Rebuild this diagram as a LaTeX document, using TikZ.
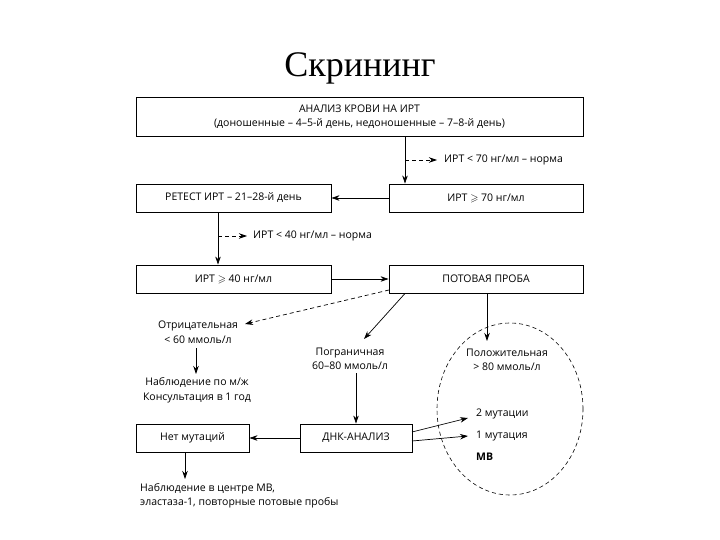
\documentclass[tikz,border=0pt]{standalone}
\usepackage{amssymb}
\usepackage{fontspec}
\setmainfont{Open Sans}
\newfontfamily\titlefont{Liberation Serif}
\usetikzlibrary{arrows.meta,shapes.geometric}
\begin{document}
\begin{tikzpicture}[x=1pt,y=-1pt,
  every node/.style={font=\fontsize{10.5}{14.5}\selectfont, inner sep=0pt},
  box/.style={draw, line width=0.9pt, minimum height=28pt, align=center},
  lbl/.style={align=center},
  arr/.style={-{Stealth[length=8pt,width=5.5pt]}, line width=0.7pt},
  darr/.style={arr, dashed, dash pattern=on 4pt off 3pt}]
\useasboundingbox (0,0) rectangle (720,540);
\node[font=\titlefont\fontsize{36}{40}\selectfont] (title) at (360,68) {Скрининг};
\node[box, minimum width=447pt, minimum height=39pt] (b1) at (359.5,116.5)
  {АНАЛИЗ КРОВИ НА ИРТ\\(доношенные – 4–5-й день, недоношенные – 7–8-й день)};
\node[box, minimum width=194pt] (r70) at (486,198) {ИРТ $\geqslant$ 70 нг/мл};
\node[box, minimum width=195pt] (ret) at (233.5,198) {РЕТЕСТ ИРТ – 21–28-й день};
\node[box, minimum width=195pt] (i40) at (233.5,279) {ИРТ $\geqslant$ 40 нг/мл};
\node[box, minimum width=194pt] (pot) at (486,279) {ПОТОВАЯ ПРОБА};
\node[box, minimum width=112pt] (dna) at (356,438) {ДНК-АНАЛИЗ};
\node[box, minimum width=113pt] (net) at (192.5,438) {Нет мутаций};
\node[anchor=west] (n70) at (444,160) {ИРТ < 70 нг/мл – норма};
\node[anchor=west] (n40) at (253,236) {ИРТ < 40 нг/мл – норма};
\node[lbl] (neg) at (198,332) {Отрицательная\\< 60 ммоль/л};
\node[lbl] (brd) at (350,359) {Пограничная\\60–80 ммоль/л};
\node[lbl] (pos) at (507,360) {Положительная\\> 80 ммоль/л};
\node[lbl] (obs) at (197,390) {Наблюдение по м/ж\\Консультация в 1 год};
\node[anchor=west] (m2) at (476,414) {2 мутации};
\node[anchor=west] (m1) at (476,436) {1 мутация};
\node[anchor=west, font=\fontsize{10.5}{14.5}\selectfont\bfseries] (mv) at (476,457) {МВ};
\node[align=left, anchor=north west] (fin) at (140,483) {Наблюдение в центре МВ,\\эластаза-1, повторные потовые пробы};
\node[ellipse, draw, dashed, dash pattern=on 4pt off 3pt, line width=0.6pt,
  minimum width=146pt, minimum height=172pt] (ell) at (510,409) {};
\coordinate (x405) at (405,0);
\coordinate (x218) at (218,0);
\coordinate (x487) at (487,0);
\coordinate (x356) at (356,0);
\coordinate (d70s) at (405,160);
\coordinate (d70e) at (437,160);
\coordinate (d40s) at (218,236);
\coordinate (d40e) at (247,236);
\coordinate (negs) at (389,290);
\coordinate (nege) at (245,324);
\coordinate (brde) at (364,339);
\coordinate (pose) at (487,341);
\coordinate (negb) at (196,348);
\coordinate (obst) at (196,374);
\coordinate (brdb) at (356,373);
\coordinate (ds2) at (412,432);
\coordinate (de2) at (468,418);
\coordinate (ds1) at (412,441);
\coordinate (de1) at (468,436);
\coordinate (netb) at (185,452);
\coordinate (fint) at (185,479);
\draw[arr] (b1.south -| x405) -- (r70.north -| x405);
\draw[darr] (d70s) -- (d70e);
\draw[arr] (r70) -- (ret);
\draw[arr] (ret.south -| x218) -- (i40.north -| x218);
\draw[darr] (d40s) -- (d40e);
\draw[arr] (i40) -- (pot);
\draw[darr] (negs) -- (nege);
\draw[arr] (pot.south -| x405) -- (brde);
\draw[arr] (pot.south -| x487) -- (pose);
\draw[arr] (negb) -- (obst);
\draw[arr] (brdb) -- (dna.north -| x356);
\draw[arr] (dna) -- (net);
\draw[arr] (ds2) -- (de2);
\draw[arr] (ds1) -- (de1);
\draw[arr] (netb) -- (fint);
\end{tikzpicture}
\end{document}
